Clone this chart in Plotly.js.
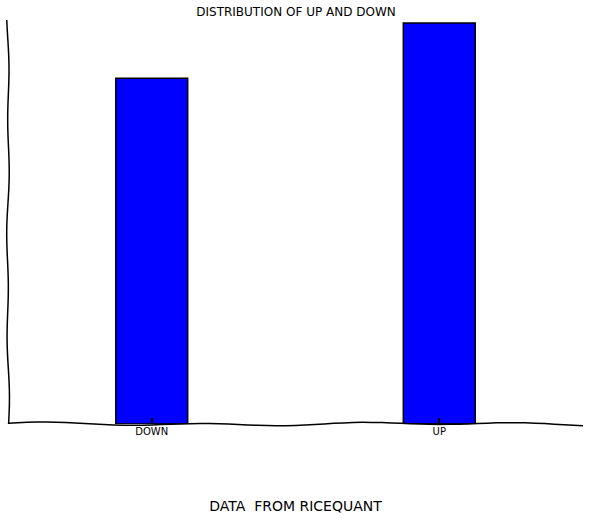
<!DOCTYPE html>
<html>
<head>
<meta charset="utf-8">
<script src="https://cdn.plot.ly/plotly-3.0.1.min.js"></script>
<style>html,body{margin:0;padding:0;background:#fff;}#chart{width:592px;height:521px;}</style>
</head>
<body>
<div id="chart"></div>
<script>
var categories = ["DOWN", "UP"];
var positions = [0, 1];
var counts = [1380, 1600];
var titleText = "DISTRIBUTION OF UP AND DOWN";
var xTitleText = "DATA  FROM RICEQUANT";

var font = "DejaVu Sans, sans-serif";
var ymax = Math.max.apply(null, counts) * 404 / 401;

// hand-drawn (xkcd-like) wobbly axis spines, built in paper coordinates
function wobblePath(horizontal, ampPaper) {
  var n = 60, pts = [];
  for (var i = 0; i <= n; i++) {
    var t = i / n;
    var w = ampPaper * (Math.sin(t * 23.0) * 0.6 + Math.sin(t * 9.0 + 1.3) * 0.4);
    pts.push(horizontal ? [t, w] : [w, t]);
  }
  return "M " + pts.map(function (p) { return p[0].toFixed(5) + "," + p[1].toFixed(5); }).join(" L ");
}

var trace = {
  type: "bar",
  x: positions,
  y: counts,
  width: 0.25,
  marker: {color: "#0000ff", line: {color: "#000000", width: 1.5}},
  hoverinfo: "none"
};

var layout = {
  width: 592, height: 521,
  margin: {l: 8, r: 9, t: 20, b: 97},
  paper_bgcolor: "#ffffff", plot_bgcolor: "#ffffff",
  showlegend: false,
  title: {text: titleText, font: {family: font, size: 12, color: "#000"}, x: 0.5, xanchor: "center", y: 0.977, yanchor: "middle", yref: "container"},
  xaxis: {
    range: [-0.5, 1.5],
    tickvals: positions, ticktext: categories,
    ticks: "inside", ticklen: 6, tickwidth: 2, tickcolor: "#000",
    layer: "above traces",
    showline: false,
    showgrid: false, zeroline: false,
    tickfont: {family: font, size: 10, color: "#000"},
    title: {text: xTitleText, font: {family: font, size: 14, color: "#000"}, standoff: 65}
  },
  yaxis: {
    range: [0, ymax],
    showline: false,
    showticklabels: false, ticks: "", showgrid: false, zeroline: false
  },
  shapes: [
    {type: "path", xref: "paper", yref: "paper", path: wobblePath(true, 2 / 404), line: {color: "#000", width: 1.5}, layer: "above"},
    {type: "path", xref: "paper", yref: "paper", path: wobblePath(false, 1.5 / 575), line: {color: "#000", width: 1.5}, layer: "above"}
  ]
};

Plotly.newPlot("chart", [trace], layout, {displayModeBar: false, staticPlot: true});
</script>
</body>
</html>
